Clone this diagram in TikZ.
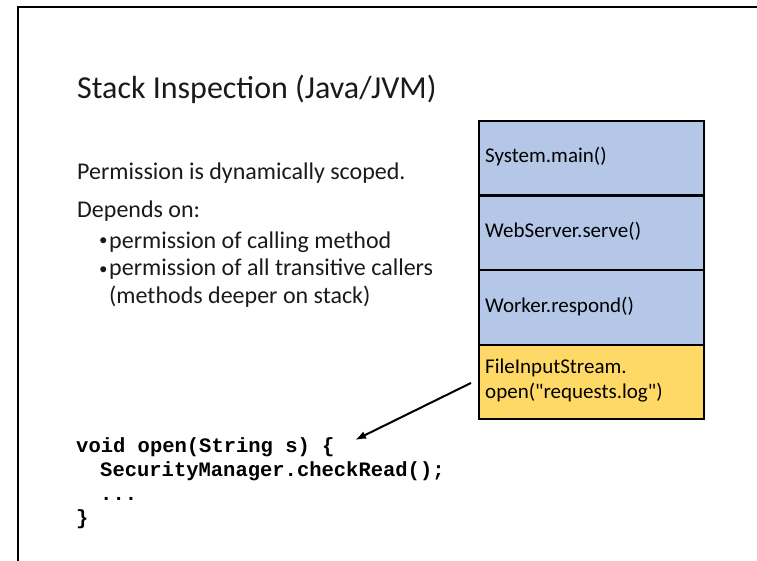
\documentclass[tikz,border=0pt]{standalone}
\usepackage{fontspec}
\setmainfont{Carlito}[Ligatures=TeXOff]
\newfontfamily\codefont{Liberation Mono}
\usetikzlibrary{arrows.meta}
\definecolor{txt}{HTML}{1A1A1A}
\definecolor{framefill}{HTML}{B4C7E7}
\definecolor{hotfill}{HTML}{FFD966}
\tikzset{
  frame/.style={line width=2pt, draw=black},
  stackframe/.style={draw=black, line width=2.4pt, fill=framefill, minimum width=225pt,
    minimum height=74.5pt, inner sep=0pt, anchor=north west},
  frametext/.style={anchor=base west, font=\fontsize{21pt}{25pt}\selectfont, text=black, inner sep=0pt},
  body/.style={anchor=base west, font=\fontsize{24pt}{28pt}\selectfont, text=txt, inner sep=0pt},
  bulletmark/.style={anchor=base west, font=\fontsize{17pt}{20pt}\selectfont, text=txt, inner sep=0pt},
  code/.style={anchor=base west, font=\codefont\bfseries\fontsize{20.5pt}{24pt}\selectfont, text=black, inner sep=0pt},
  callarrow/.style={line width=2pt, -{Latex[length=11pt,width=8pt]}}
}
\begin{document}
\begin{tikzpicture}[x=1pt,y=-1pt]
\useasboundingbox (0,0) rectangle (757,561);
% slide border
\draw[frame] (18,561) -- (18,7) -- (757,7);

% title and explanation
\node[anchor=base west, font=\fontsize{32pt}{36pt}\selectfont, text=txt, inner sep=0pt] (title) at (77,99) {Stack Inspection (Java/JVM)};
\node[body] (l1) at (77,180) {Permission is dynamically scoped.};
\node[body] (l2) at (77,218) {Depends on:};
\node[bulletmark] (b1) at (99,246) {\textbullet};
\node[body] (b1t) at (109,248) {permission of calling method};
\node[bulletmark] (b2) at (99,274) {\textbullet};
\node[body] (b2t) at (109,276) {permission of all transitive callers};
\node[body] (b3) at (109,303) {(methods deeper on stack)};

% call stack
\node[stackframe] (s1) at (478,120) {};
\node[stackframe] (s2) at (478,194.5) {};
\node[stackframe] (s3) at (478,269) {};
\node[stackframe, fill=hotfill] (s4) at (478,343.5) {};
\node[frametext] (t1) at (485,163) {System.main()};
\node[frametext] (t2) at (485,238) {WebServer.serve()};
\node[frametext] (t3) at (485,312) {Worker.respond()};
\node[frametext] (t4) at (485,373) {FileInputStream.};
\node[frametext] (t5) at (485,398) {open("requests.log")};

% source of the called method
\node[code] (c1) at (76,452) {void open(String s) \{};
\node[code] (c2) at (100,476) {SecurityManager.checkRead();};
\node[code] (c3) at (100,500) {...};
\node[code] (c4) at (76,524) {\}};

\coordinate (tip) at (355,440);
\draw[callarrow] ([xshift=-7pt,yshift=-1pt]s4.west) -- (tip);
\end{tikzpicture}
\end{document}
